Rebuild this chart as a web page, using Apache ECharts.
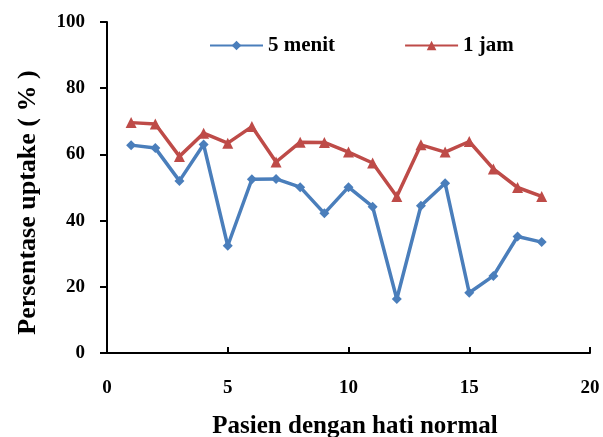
<!DOCTYPE html>
<html>
<head>
<meta charset="utf-8">
<script src="https://cdn.jsdelivr.net/npm/echarts@6/dist/echarts.min.js"></script>
<style>html,body{margin:0;padding:0;background:#fff}#c{width:603px;height:437px}</style>
</head>
<body>
<div id="c"></div>
<script>
const patients = [1,2,3,4,5,6,7,8,9,10,11,12,13,14,15,16,17,18];
const menit5 = [62.8,61.9,52.0,63.0,32.4,52.5,52.6,50.1,42.2,50.1,44.2,16.3,44.5,51.3,18.2,23.3,35.2,33.5];
const jam1 = [69.6,69.2,59.4,66.4,63.4,68.4,57.7,63.7,63.6,60.7,57.4,47.3,62.9,60.7,63.9,55.6,50.0,47.3];
const seriesNames = ['5 menit','1 jam'];
const xTitle = 'Pasien dengan hati normal';
const yTitle = 'Persentase uptake ( % )';

const font = 'Liberation Serif';
const chart = echarts.init(document.getElementById('c'), null, {renderer:'canvas'});
chart.setOption({
  animation:false,
  backgroundColor:'#fff',
  grid:{left:107,right:13,top:22,bottom:84,containLabel:false,outerBoundsMode:'none'},
  legend:{
    left:204, top:30, itemWidth:53, itemHeight:12, itemGap:69,
    textStyle:{fontFamily:font,fontWeight:'bold',fontSize:21,color:'#000'},
    data:seriesNames
  },
  xAxis:{
    type:'value',min:0,max:20,interval:5,
    name:xTitle,nameLocation:'middle',nameGap:61,
    nameTextStyle:{fontFamily:font,fontWeight:'bold',fontSize:25,color:'#000',padding:[0,0,0,13]},
    axisLine:{show:true,onZero:false,lineStyle:{color:'#000',width:2}},
    axisTick:{show:true,inside:true,length:6,lineStyle:{color:'#000',width:2}},
    axisLabel:{fontFamily:font,fontWeight:'bold',fontSize:19,color:'#000',margin:26},
    splitLine:{show:false}
  },
  yAxis:{
    type:'value',min:0,max:100,interval:20,
    name:yTitle,nameLocation:'middle',nameGap:66,
    nameTextStyle:{fontFamily:font,fontWeight:'bold',fontSize:26,color:'#000',padding:[0,30,0,0]},
    axisLine:{show:true,lineStyle:{color:'#000',width:2}},
    axisTick:{show:true,inside:false,length:7,lineStyle:{color:'#000',width:2}},
    axisLabel:{fontFamily:font,fontWeight:'bold',fontSize:19,color:'#000',margin:22},
    splitLine:{show:false}
  },
  series:[
    {name:seriesNames[0],type:'line',data:patients.map((p,i)=>[p,menit5[i]]),
     symbol:'diamond',symbolSize:10,lineStyle:{color:'#4A7EBB',width:3.5},
     itemStyle:{color:'#4A7EBB'}},
    {name:seriesNames[1],type:'line',data:patients.map((p,i)=>[p,jam1[i]]),
     symbol:'triangle',symbolSize:11,lineStyle:{color:'#BE4B48',width:3.5},
     itemStyle:{color:'#BE4B48'}}
  ]
});
</script>
</body>
</html>
